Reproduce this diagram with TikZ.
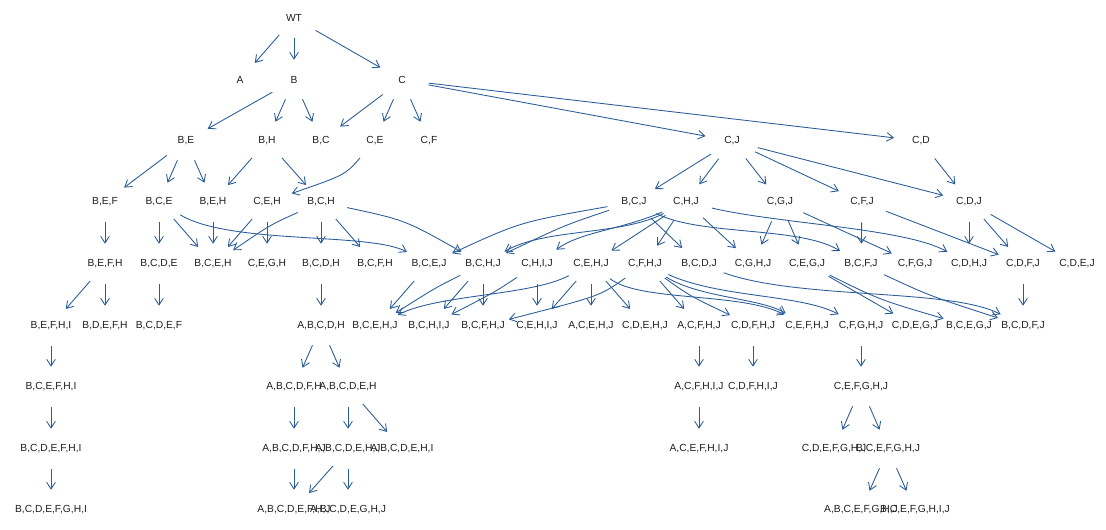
\documentclass[tikz,border=0pt]{standalone}
\usepackage{fontspec}
\setmainfont{Liberation Sans}
\usetikzlibrary{arrows.meta,shapes.geometric}
\definecolor{edgeblue}{RGB}{42,92,152}
\definecolor{labelgray}{RGB}{30,30,30}
\begin{document}
\begin{tikzpicture}[x=0.75pt,y=-0.75pt,
  gn/.style={ellipse,draw=none,minimum width=40.5pt,minimum height=30pt,inner sep=0pt},
  lab/.style={label={[font=\fontsize{7.7pt}{9pt}\selectfont,text=labelgray,inner sep=0pt]center:#1}},
  edge/.style={draw=edgeblue,line width=0.65pt,-{Straight Barb[length=5pt,width=6.5pt]}}]
\path[use as bounding box] (0,0) rectangle (1106,530);
% row 0-2
\node[gn,lab={WT}] (wt) at (294,18) {};
\node[gn,lab={A}] (a) at (240,80) {};
\node[gn,lab={B}] (b) at (294,80) {};
\node[gn,lab={C}] (c) at (402,80) {};
\node[gn,lab={B,E}] (be) at (186,141) {};
\node[gn,lab={B,H}] (bh) at (267,141) {};
\node[gn,lab={B,C}] (bc) at (321,141) {};
\node[gn,lab={C,E}] (ce) at (375,141) {};
\node[gn,lab={C,F}] (cf) at (429,141) {};
\node[gn,lab={C,J}] (cj) at (732,141) {};
\node[gn,lab={C,D}] (cd) at (921,141) {};
% row 3
\node[gn,lab={B,E,F}] (bef) at (105,202) {};
\node[gn,lab={B,C,E}] (bce) at (159,202) {};
\node[gn,lab={B,E,H}] (beh) at (213,202) {};
\node[gn,lab={C,E,H}] (ceh) at (267,202) {};
\node[gn,lab={B,C,H}] (bch) at (321,202) {};
\node[gn,lab={B,C,J}] (bcj) at (634,202) {};
\node[gn,lab={C,H,J}] (chj) at (686,202) {};
\node[gn,lab={C,G,J}] (cgj) at (780,202) {};
\node[gn,lab={C,F,J}] (cfj) at (862,202) {};
\node[gn,lab={C,D,J}] (cdj) at (969,202) {};
% row 4
\node[gn,lab={B,E,F,H}] (befh) at (105,264) {};
\node[gn,lab={B,C,D,E}] (bcde) at (159,264) {};
\node[gn,lab={B,C,E,H}] (bceh) at (213,264) {};
\node[gn,lab={C,E,G,H}] (cegh) at (267,264) {};
\node[gn,lab={B,C,D,H}] (bcdh) at (321,264) {};
\node[gn,lab={B,C,F,H}] (bcfh) at (375,264) {};
\node[gn,lab={B,C,E,J}] (bcej) at (429,264) {};
\node[gn,lab={B,C,H,J}] (bchj) at (483,264) {};
\node[gn,lab={C,H,I,J}] (chij) at (537,264) {};
\node[gn,lab={C,E,H,J}] (cehj) at (591,264) {};
\node[gn,lab={C,F,H,J}] (cfhj) at (645,264) {};
\node[gn,lab={B,C,D,J}] (bcdj) at (699,264) {};
\node[gn,lab={C,G,H,J}] (cghj) at (753,264) {};
\node[gn,lab={C,E,G,J}] (cegj) at (807,264) {};
\node[gn,lab={B,C,F,J}] (bcfj) at (861,264) {};
\node[gn,lab={C,F,G,J}] (cfgj) at (915,264) {};
\node[gn,lab={C,D,H,J}] (cdhj) at (969,264) {};
\node[gn,lab={C,D,F,J}] (cdfj) at (1023,264) {};
\node[gn,lab={C,D,E,J}] (cdej) at (1077,264) {};
% row 5
\node[gn,lab={B,E,F,H,I}] (befhi) at (51,326) {};
\node[gn,lab={B,D,E,F,H}] (bdefh) at (105,326) {};
\node[gn,lab={B,C,D,E,F}] (bcdef) at (159,326) {};
\node[gn,lab={A,B,C,D,H}] (abcdh) at (321,326) {};
\node[gn,lab={B,C,E,H,J}] (bcehj) at (375,326) {};
\node[gn,lab={B,C,H,I,J}] (bchij) at (429,326) {};
\node[gn,lab={B,C,F,H,J}] (bcfhj) at (483,326) {};
\node[gn,lab={C,E,H,I,J}] (cehij) at (537,326) {};
\node[gn,lab={A,C,E,H,J}] (acehj) at (591,326) {};
\node[gn,lab={C,D,E,H,J}] (cdehj) at (645,326) {};
\node[gn,lab={A,C,F,H,J}] (acfhj) at (699,326) {};
\node[gn,lab={C,D,F,H,J}] (cdfhj) at (753,326) {};
\node[gn,lab={C,E,F,H,J}] (cefhj) at (807,326) {};
\node[gn,lab={C,F,G,H,J}] (cfghj) at (861,326) {};
\node[gn,lab={C,D,E,G,J}] (cdegj) at (915,326) {};
\node[gn,lab={B,C,E,G,J}] (bcegj) at (969,326) {};
\node[gn,lab={B,C,D,F,J}] (bcdfj) at (1023,326) {};
% row 6
\node[gn,lab={B,C,E,F,H,I}] (bcefhi) at (51,387) {};
\node[gn,lab={A,B,C,D,F,H}] (abcdfh) at (294,387) {};
\node[gn,lab={A,B,C,D,E,H}] (abcdeh) at (348,387) {};
\node[gn,lab={A,C,F,H,I,J}] (acfhij) at (699,387) {};
\node[gn,lab={C,D,F,H,I,J}] (cdfhij) at (753,387) {};
\node[gn,lab={C,E,F,G,H,J}] (cefghj) at (861,387) {};
% row 7
\node[gn,lab={B,C,D,E,F,H,I}] (bcdefhi) at (51,449) {};
\node[gn,lab={A,B,C,D,F,H,J}] (abcdfhj) at (294,449) {};
\node[gn,lab={A,B,C,D,E,H,J}] (abcdehj) at (348,449) {};
\node[gn,lab={A,B,C,D,E,H,I}] (abcdehi) at (402,449) {};
\node[gn,lab={A,C,E,F,H,I,J}] (acefhij) at (699,449) {};
\node[gn,lab={C,D,E,F,G,H,J}] (cdefghj) at (834,449) {};
\node[gn,lab={B,C,E,F,G,H,J}] (bcefghj) at (888,449) {};
% row 8
\node[gn,lab={B,C,D,E,F,G,H,I}] (bcdefghi) at (51,510) {};
\node[gn,lab={A,B,C,D,E,F,H,J}] (abcdefhj) at (294,510) {};
\node[gn,lab={A,B,C,D,E,G,H,J}] (abcdeghj) at (348,510) {};
\node[gn,lab={A,B,C,E,F,G,H,J}] (abcefghj) at (861,510) {};
\node[gn,lab={B,C,E,F,G,H,I,J}] (bcefghij) at (915,510) {};
% edges rows 0-2
\draw[edge] (wt) -- (a);
\draw[edge] (wt) -- (b);
\draw[edge] (wt) -- (c);
\draw[edge] (b) -- (be);
\draw[edge] (b) -- (bh);
\draw[edge] (b) -- (bc);
\draw[edge] (c) -- (bc);
\draw[edge] (c) -- (ce);
\draw[edge] (c) -- (cf);
\draw[edge] (c) -- (cj);
\draw[edge] (c) -- (cd);
% rows 2-3
\draw[edge] (be) -- (bef);
\draw[edge] (be) -- (bce);
\draw[edge] (be) -- (beh);
\draw[edge] (bh) -- (beh);
\draw[edge] (bh) -- (bch);
\draw[edge] (ce) .. controls (345,175) .. (ceh);
\draw[edge] (cj) -- (bcj);
\draw[edge] (cj) -- (chj);
\draw[edge] (cj) -- (cgj);
\draw[edge] (cj) -- (cfj);
\draw[edge] (cj) -- (cdj);
\draw[edge] (cd) -- (cdj);
% rows 3-4
\draw[edge] (bef) -- (befh);
\draw[edge] (bce) -- (bcde);
\draw[edge] (bce) -- (bceh);
\draw[edge] (bce) .. controls (230,245) and (370,232) .. (bcej);
\draw[edge] (beh) -- (bceh);
\draw[edge] (ceh) -- (bceh);
\draw[edge] (ceh) -- (cegh);
\draw[edge] (bch) .. controls (270,225) .. (bceh);
\draw[edge] (bch) -- (bcdh);
\draw[edge] (bch) -- (bcfh);
\draw[edge] (bch) .. controls (405,220) .. (bchj);
\draw[edge] (bcj) .. controls (520,222) .. (bcej);
\draw[edge] (bcj) .. controls (565,225) .. (bchj);
\draw[edge] (bcj) -- (bcdj);
\draw[edge] (bcj) .. controls (700,236) and (800,226) .. (bcfj);
\draw[edge] (chj) .. controls (620,236) and (545,228) .. (bchj);
\draw[edge] (chj) .. controls (620,230) and (580,232) .. (chij);
\draw[edge] (chj) -- (cehj);
\draw[edge] (chj) -- (cfhj);
\draw[edge] (chj) -- (cghj);
\draw[edge] (chj) .. controls (780,224) and (905,228) .. (cdhj);
\draw[edge] (cgj) -- (cghj);
\draw[edge] (cgj) -- (cegj);
\draw[edge] (cgj) -- (cfgj);
\draw[edge] (cfj) -- (bcfj);
\draw[edge] (cfj) -- (cdfj);
\draw[edge] (cdj) -- (cdhj);
\draw[edge] (cdj) -- (cdfj);
\draw[edge] (cdj) -- (cdej);
% rows 4-5
\draw[edge] (befh) -- (befhi);
\draw[edge] (befh) -- (bdefh);
\draw[edge] (bcde) -- (bcdef);
\draw[edge] (bcdh) -- (abcdh);
\draw[edge] (bcej) -- (bcehj);
\draw[edge] (bchj) .. controls (435,288) .. (bcehj);
\draw[edge] (bchj) -- (bchij);
\draw[edge] (bchj) -- (bcfhj);
\draw[edge] (chij) .. controls (495,292) .. (bchij);
\draw[edge] (chij) -- (cehij);
\draw[edge] (cehj) .. controls (530,296) and (440,294) .. (bcehj);
\draw[edge] (cehj) -- (cehij);
\draw[edge] (cehj) -- (acehj);
\draw[edge] (cehj) -- (cdehj);
\draw[edge] (cehj) .. controls (640,302) and (740,292) .. (cefhj);
\draw[edge] (cfhj) .. controls (600,296) .. (bcfhj);
\draw[edge] (cfhj) -- (acfhj);
\draw[edge] (cfhj) .. controls (690,296) .. (cdfhj);
\draw[edge] (cfhj) .. controls (700,298) and (760,298) .. (cefhj);
\draw[edge] (cfhj) .. controls (720,298) and (800,294) .. (cfghj);
\draw[edge] (bcdj) .. controls (800,300) and (950,288) .. (bcdfj);
\draw[edge] (cegj) -- (cdegj);
\draw[edge] (cegj) .. controls (880,300) .. (bcegj);
\draw[edge] (bcfj) .. controls (930,296) .. (bcdfj);
\draw[edge] (cdfj) -- (bcdfj);
% rows 5-8
\draw[edge] (befhi) -- (bcefhi);
\draw[edge] (bcefhi) -- (bcdefhi);
\draw[edge] (bcdefhi) -- (bcdefghi);
\draw[edge] (abcdh) -- (abcdfh);
\draw[edge] (abcdh) -- (abcdeh);
\draw[edge] (abcdfh) -- (abcdfhj);
\draw[edge] (abcdeh) -- (abcdehj);
\draw[edge] (abcdeh) -- (abcdehi);
\draw[edge] (abcdfhj) -- (abcdefhj);
\draw[edge] (abcdehj) -- (abcdefhj);
\draw[edge] (abcdehj) -- (abcdeghj);
\draw[edge] (acfhj) -- (acfhij);
\draw[edge] (cdfhj) -- (cdfhij);
\draw[edge] (cfghj) -- (cefghj);
\draw[edge] (acfhij) -- (acefhij);
\draw[edge] (cefghj) -- (cdefghj);
\draw[edge] (cefghj) -- (bcefghj);
\draw[edge] (bcefghj) -- (abcefghj);
\draw[edge] (bcefghj) -- (bcefghij);
\end{tikzpicture}
\end{document}
